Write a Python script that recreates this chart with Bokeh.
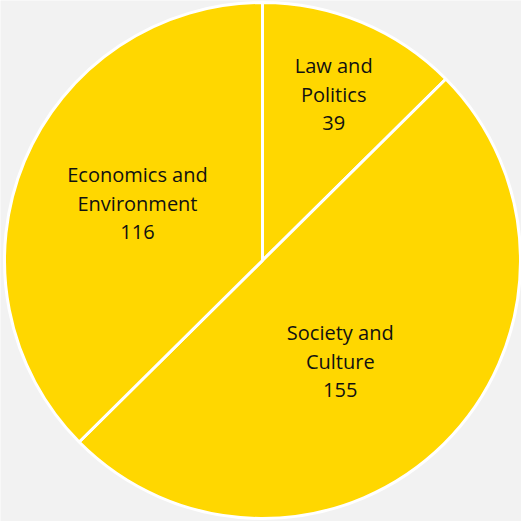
import math
from bokeh.plotting import figure
from bokeh.models import Range1d, ColumnDataSource
from bokeh.core.properties import value
from bokeh.embed import file_html
from bokeh.resources import INLINE

# Data
categories = ["Law and Politics", "Society and Culture", "Economics and Environment"]
values = [39, 155, 116]

# Style
W = H = 521
cx, cy, R = 262, 261, 258
label_r = [180, 128, 137]
label_da = [0.65, 7.3, 1.5]  # degrees clockwise adjustment
label_lift = 1
colors = ["#FFD700"] * 3

total = sum(values)
starts, ends, lx, ly, line1, line2, vals = [], [], [], [], [], [], []
acc = 0.0
for cat, v, lr, da in zip(categories, values, label_r, label_da):
    a0 = acc / total * 360.0
    acc += v
    a1 = acc / total * 360.0
    starts.append(math.radians(90 - a0))
    ends.append(math.radians(90 - a1))
    mid = math.radians((a0 + a1) / 2 + da)
    lx.append(cx + lr * math.sin(mid))
    ly.append(cy + lr * math.cos(mid) + label_lift)
    head, tail = cat.split(" and ")
    line1.append(head + " and")
    line2.append(tail)
    vals.append(str(v))

src = ColumnDataSource(dict(start=starts, end=ends, color=colors,
                            x=lx, y=ly, l1=line1, l2=line2, v=vals))

p = figure(width=W, height=H, output_backend="svg", toolbar_location=None,
           x_range=Range1d(0, W), y_range=Range1d(0, H), min_border=0)
p.background_fill_color = "#f2f2f2"
p.border_fill_color = "#f2f2f2"
p.outline_line_color = None
p.axis.visible = False
p.grid.visible = False

p.wedge(x=cx, y=cy, radius=R, start_angle="start", end_angle="end",
        direction="clock", fill_color="color", line_color="white", line_width=3,
        source=src)

font = value("Open Sans")
for col, off in (("l1", -29), ("l2", 0), ("v", 29)):
    p.text(x="x", y="y", text=col, source=src, y_offset=off,
           text_align="center", text_baseline="middle", text_font=font,
           text_font_size="20px", text_color="#111111")

open("out.html", "w").write(file_html(p, INLINE))
